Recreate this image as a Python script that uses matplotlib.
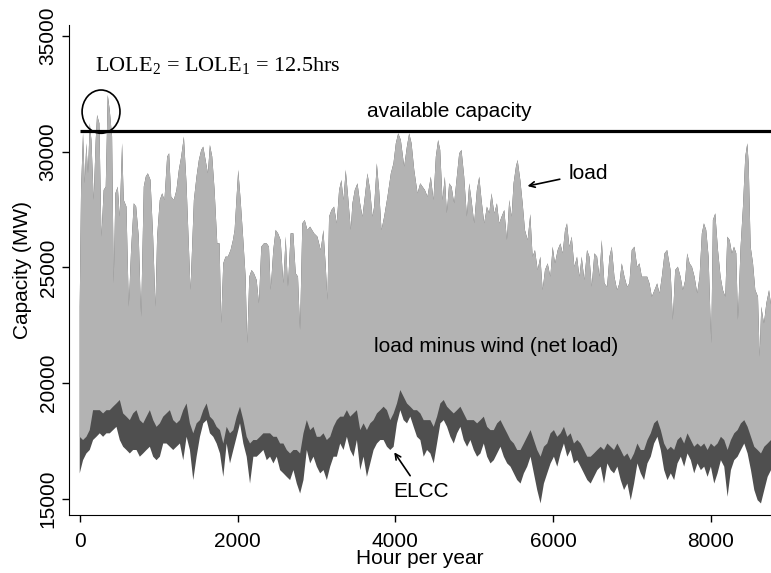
import numpy as np
import matplotlib
matplotlib.use('Agg')
import matplotlib.pyplot as plt
from matplotlib.patches import Ellipse

plt.rcParams['font.family'] = 'Liberation Sans'
plt.rcParams['mathtext.fontset'] = 'custom'
plt.rcParams['mathtext.rm'] = 'Liberation Serif'

# upper edge of the hourly load trace: daily peaks and weekend dips (hour, MW)
peak_hours = [0, 17, 42, 63, 84, 105, 127, 148, 177, 203, 220, 249, 275, 304, 330, 355, 380, 410, 431, 452,
              482, 507, 537, 558, 592, 622, 651, 685, 715, 748, 778, 812, 837, 863, 897, 930, 960, 981, 1015,
              1045, 1074, 1108, 1133, 1159, 1193, 1226, 1256, 1286, 1320, 1353,
              1404, 1447, 1480, 1510, 1540, 1565, 1595, 1624, 1650, 1679, 1709, 1743, 1772, 1793, 1819, 1848,
              1878, 1912, 1942, 1963, 1988, 2009, 2039, 2073, 2102, 2123, 2149, 2178, 2208, 2242, 2271, 2301,
              2335, 2369, 2398, 2420, 2453, 2483, 2513, 2546, 2580, 2610, 2639, 2673, 2707, 2737, 2766, 2792,
              2821, 2851,
              2885, 2919, 2970, 3012, 3054, 3088, 3118, 3139, 3160, 3190, 3223, 3257, 3287, 3316, 3342, 3371,
              3401, 3435, 3456, 3486, 3520, 3553, 3583, 3613, 3646, 3680, 3710, 3731, 3765, 3794, 3824, 3858,
              3900, 3943, 3976, 4006, 4036, 4069, 4112, 4146, 4175, 4205, 4239, 4281, 4315, 4344, 4374,
              4407, 4449, 4483, 4513, 4542, 4568, 4597, 4627, 4652, 4682, 4712, 4745, 4779, 4809, 4838, 4872,
              4906, 4936, 4965, 4999, 5033, 5063, 5092, 5126, 5160, 5190, 5219, 5253, 5287, 5316, 5346, 5380,
              5414, 5443, 5473, 5498, 5528, 5549, 5583, 5613, 5642, 5676, 5710, 5739, 5769, 5803, 5837, 5866,
              5896,
              5930, 5964, 5993, 6023, 6057, 6091, 6120, 6150, 6175, 6205, 6235, 6268, 6302, 6332, 6361, 6395,
              6429, 6459, 6488, 6522, 6556, 6586, 6615, 6649, 6683, 6713, 6742, 6776, 6810, 6839, 6869, 6903,
              6937, 6966, 6996, 7030, 7064, 7093, 7123, 7157, 7191, 7220, 7250, 7284, 7317, 7347, 7377, 7411,
              7444,
              7487, 7516, 7546, 7580, 7614, 7643, 7673, 7698, 7728, 7758, 7791, 7825, 7855, 7884, 7910, 7939,
              7969, 8003, 8024, 8054, 8088, 8121, 8151, 8181, 8206, 8236, 8265, 8291, 8320, 8341, 8375, 8405,
              8434, 8460, 8477, 8502, 8532, 8561, 8595, 8616, 8637, 8671, 8701, 8735, 8760]
peak_mw = [23300, 28345, 30795, 28633, 30362, 29066, 31227, 30506, 27913, 30506, 31587, 31227, 26328, 28345,
           28489, 32452, 31803, 30650, 24310, 28201, 28489, 27192, 30362, 27913, 27625, 23301, 25751, 27769,
           27625, 26328, 22869, 28489, 28921, 29066, 28777, 26328, 23301, 26328, 27913, 28201, 27913, 29786,
           29930, 28057, 27913, 28345, 29210, 29786, 30650, 28633,
           24022, 27913, 28921, 29642, 30074, 30218, 29642, 29066, 30290, 29786, 28345, 26039, 26039, 22581,
           25175, 25463, 25463, 25751, 26184, 26616, 28057, 29210, 27913, 26184, 24598, 21716, 24598, 24887,
           24743, 24454, 23446, 25895, 26039, 26039, 25895, 24022, 25751, 26616, 26472, 26184, 24310, 26328,
           24166, 26472, 26472, 24743, 24598, 22293, 26904, 27048,
           26616, 26760, 26472, 26328, 25751, 26616, 25031, 23590, 27192, 27480, 27625, 26904, 28345, 28777,
           27913, 29210, 28057, 26616, 27769, 28345, 28633, 27769, 27192, 28057, 29066, 28345, 27192, 27625,
           29498, 28345, 26616, 27192, 28057, 29066, 29498, 30362, 30794, 30506, 29354, 30218, 30794, 30362,
           29210, 28201, 28633, 28489, 28345,
           28057, 28921, 27913, 29786, 30506, 30074, 27913, 28921, 27336, 28633, 28489, 27769, 28921, 29930,
           30074, 28921, 27192, 28633, 27913, 26904, 28345, 28921, 27913, 26904, 27625, 27336, 28201, 27336,
           27769, 26904, 27192, 27480, 26184, 27913, 27192, 28633, 29354, 29642, 28777, 27769, 26616, 26184,
           27300, 25463, 25751, 24887, 25463, 24022, 24887,
           25175, 24598, 25895, 25175, 25751, 26039, 25607, 26616, 26904, 25895, 26328, 25031, 25463, 24598,
           25463, 24454, 25751, 25463, 24166, 25607, 25463, 24598, 26184, 24310, 24166, 25463, 25895, 24598,
           24022, 24310, 25175, 24598, 24166, 24310, 25751, 25895, 25031, 25175, 24598, 24598, 24598, 24310,
           23734, 24022, 24310, 23878, 24598, 25607, 25751,
           24887, 22725, 24887, 25031, 24598, 24022, 24454, 25607, 25175, 25031, 24598, 23878, 24598, 26472,
           26904, 26616, 25463, 21716, 27048, 27336, 25751, 24598, 24022, 23734, 26328, 26184, 25607, 25895,
           25607, 22725, 25895, 27625, 29786, 30362, 29498, 25895, 25175, 24022, 23734, 21140, 23302, 22581,
           23446, 24022, 23400]

# lower edges, read every ~42 h through the year
# elcc_low: bottom of the dark trace, net_load_low: bottom of the grey (load minus wind) trace
elcc_low = [16100, 16670, 16960, 17110, 17540, 17680, 17830, 17680, 17830, 17830, 17970, 18110, 17540, 17250,
            17110, 16960, 17110, 17110, 16820, 16960, 17110, 17250, 16820, 16670, 16820, 17390, 17390, 17250,
            17110, 17250, 17390, 16670, 17680,
            17110, 15810, 16820, 17680, 18260, 18400, 17830, 17680, 17390, 16960, 15950, 17390, 16530, 17110,
            17680, 18260, 17390, 16820, 15660, 16820, 16820, 16960, 17110, 16670, 16820, 16530, 16820, 16240,
            16100, 15950, 15810, 16240, 15660, 15230, 15810, 17110,
            16530, 16820, 16390, 16100, 16240, 15810, 16390, 16820, 16820, 17390, 17110, 17680, 17110, 16820,
            17540, 16240, 16820, 15950, 16530, 17110, 17390, 17540, 17540, 17250, 17110, 17250, 18260, 18830,
            18400, 18260, 18550, 18110, 17680, 17540, 16820, 17110,
            16960, 16530, 17390, 18260, 18400, 18110, 17680, 17390, 17830, 18110, 17540, 17250, 17540, 17110,
            16820, 16960, 17390, 16820, 16530, 16670, 16960, 17250, 16820, 16530, 16390, 16100, 15810, 15660,
            16100, 16390, 16820, 16100, 15380, 14800, 15660, 16100,
            16530, 16820, 16390, 16960, 17390, 16820, 17110, 16530, 16670, 16390, 16100, 15810, 15660, 15950,
            16240, 16390, 15660, 16530, 16240, 16100, 16390, 15810, 15380, 15660, 14940, 15660, 16530, 16100,
            15810, 16530, 16820, 17390, 17680, 17110, 16240, 15810,
            16100, 15810, 16530, 16820, 16390, 16960, 16670, 16100, 16530, 16240, 16390, 15950, 16390, 15660,
            16100, 16670, 16390, 15090, 16240, 16670, 16820, 17110, 17390, 16960, 16240, 15380, 14940, 14800,
            15380, 15950, 16240]
net_load_low = [17680, 17540, 17680, 17970, 18830, 18830, 18830, 18690, 18830, 18830, 18980, 19120, 19270,
                18690, 18550, 18400, 18690, 18830, 18400, 18260, 18550, 18830, 18400, 18110, 18260, 18550,
                18690, 18830, 18400, 18260, 18400, 18830, 19120,
                18260, 17830, 18260, 18400, 18830, 19120, 18550, 18400, 18110, 17970, 17390, 18110, 17830,
                17970, 18550, 18980, 18400, 17680, 17390, 17540, 17540, 17680, 17830, 17830, 17830, 17680,
                17680, 17390, 17390, 17110, 16960, 17110, 17110, 16960, 17830, 18400,
                17970, 18110, 17680, 17680, 17830, 17540, 17680, 18110, 18400, 18550, 18550, 18830, 18550,
                18690, 18830, 17970, 18260, 17970, 18260, 18400, 18690, 18830, 18980, 18830, 18400, 18690,
                19120, 19700, 19410, 19120, 18980, 18830, 18830, 18690, 18400, 18400,
                18400, 18110, 18550, 19120, 19270, 18980, 18830, 18690, 18830, 18980, 18690, 18400, 18400,
                18400, 18260, 18400, 18550, 18110, 17970, 17970, 18260, 18400, 18110, 17830, 17540, 17390,
                17110, 17110, 17390, 17680, 17970, 17540, 17110, 16820, 17250, 17390,
                17830, 17970, 17680, 17830, 18110, 17680, 17830, 17390, 17540, 17390, 17110, 16820, 16820,
                16960, 17110, 17250, 17110, 17390, 17250, 17110, 17390, 17110, 16820, 16960, 16670, 16960,
                17390, 17110, 17110, 17540, 17830, 18260, 18400, 17970, 17390, 17110,
                17250, 17110, 17540, 17680, 17390, 17830, 17540, 17250, 17390, 17250, 17390, 17110, 17390,
                17250, 17390, 17680, 17540, 17110, 17540, 17830, 17970, 18260, 18400, 18110, 17680, 17250,
                17110, 16960, 17250, 17390, 17540]

capacity_mw = 30900
lole_hrs = 12.5

low_hours = np.linspace(0, 8760, len(elcc_low))

fig = plt.figure(figsize=(7.71, 5.73), dpi=100)
ax = fig.add_axes([0.0901, 0.1012, 0.9099, 0.8552])

# dark trace first, grey net load drawn over it so only its lower fringe shows
ax.fill(np.r_[peak_hours, low_hours[::-1]], np.r_[peak_mw, np.array(elcc_low)[::-1]],
        color='#4f4f4f', lw=0)
ax.fill(np.r_[peak_hours, low_hours[::-1]], np.r_[peak_mw, np.array(net_load_low)[::-1]],
        color='#b3b3b3', lw=0)

ax.hlines(capacity_mw, 0, 8760, color='black', lw=2.3)
ax.add_patch(Ellipse((270, 31730), width=480, height=1870, fill=False, ec='black', lw=1.2))

ax.text(4682, 31730, 'available capacity', ha='center', va='center', fontsize=15)
ax.text(195, 33675, r'LOLE$_2$ = LOLE$_1$ = %shrs' % lole_hrs, ha='left', va='center',
        fontsize=16, family='Liberation Serif')
ax.text(6198, 29038, 'load', ha='left', va='center', fontsize=15)
ax.annotate('', xy=(5640, 28489), xytext=(6118, 28835),
            arrowprops=dict(arrowstyle='->', lw=1.2, color='black'))
ax.text(5278, 21574, 'load minus wind (net load)', ha='center', va='center', fontsize=15)
ax.text(4327, 15307, 'ELCC', ha='center', va='center', fontsize=15)
ax.annotate('', xy=(3966, 17109), xytext=(4207, 15899),
            arrowprops=dict(arrowstyle='->', lw=1.2, color='black'))

ax.set_xlim(-130, 8760)
ax.set_ylim(14300, 35475)
ax.set_xticks([0, 2000, 4000, 6000, 8000])
ax.set_yticks([15000, 20000, 25000, 30000, 35000])
ax.tick_params(axis='both', labelsize=15, length=5, width=1)
ax.tick_params(axis='x', pad=7)
ax.tick_params(axis='y', labelrotation=90)
for lab in ax.get_yticklabels():
    lab.set_va('center')
ax.spines['top'].set_visible(False)
ax.spines['right'].set_visible(False)
ax.set_xlabel('Hour per year', fontsize=15, labelpad=-1)
ax.set_ylabel('Capacity (MW)', fontsize=15, labelpad=5)

plt.savefig('out.png', dpi=100)
